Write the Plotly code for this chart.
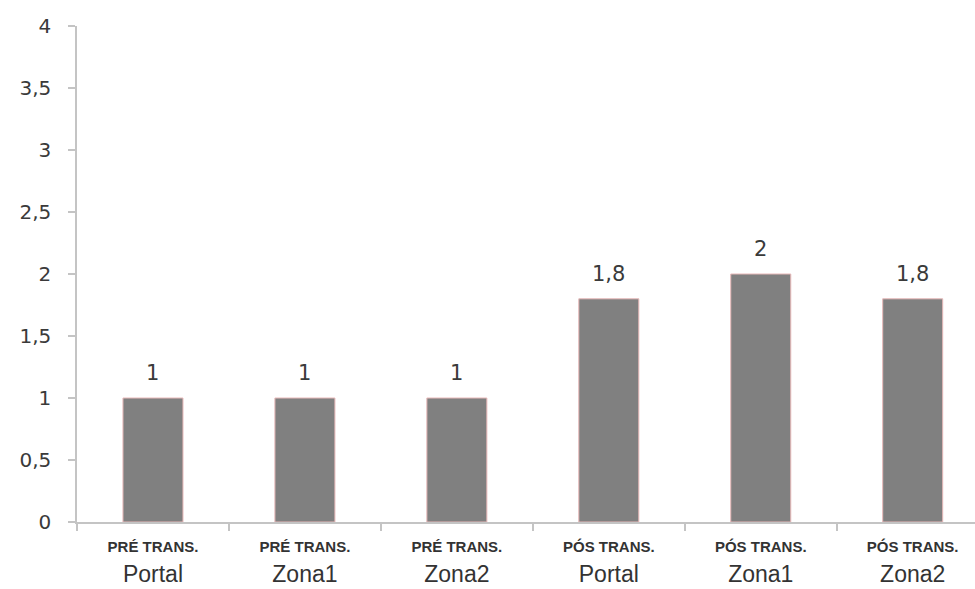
import plotly.graph_objects as go

groups = ["PRÉ TRANS.", "PRÉ TRANS.", "PRÉ TRANS.", "PÓS TRANS.", "PÓS TRANS.", "PÓS TRANS."]
sites = ["Portal", "Zona1", "Zona2", "Portal", "Zona1", "Zona2"]
values = [1, 1, 1, 1.8, 2, 1.8]
value_labels = ["1", "1", "1", "1,8", "2", "1,8"]
y_ticks = [0, 0.5, 1, 1.5, 2, 2.5, 3, 3.5, 4]
y_tick_labels = ["0", "0,5", "1", "1,5", "2", "2,5", "3", "3,5", "4"]

xs = list(range(len(values)))
ticktext = [f"<span style='font-size:15px'><b>{g}</b></span><br>{s}" for g, s in zip(groups, sites)]

fig = go.Figure()
fig.add_trace(go.Bar(
    x=xs, y=values, width=0.395,
    marker=dict(color="#808080", line=dict(color="#e8b8b8", width=1)),
    hoverinfo="skip",
))

for x, v, t in zip(xs, values, value_labels):
    fig.add_annotation(x=x, y=v, text=t, showarrow=False, yanchor="bottom", yshift=11,
                       font=dict(family="DejaVu Sans, sans-serif", size=21, color="#3a3a3a"))

fig.update_layout(
    width=975, height=589,
    margin=dict(l=77, r=0, t=26, b=67),
    plot_bgcolor="white", paper_bgcolor="white",
    showlegend=False,
    separators=", ",
)
fig.update_xaxes(
    range=[-0.5, 5.41], automargin=False,
    tickmode="array", tickvals=xs, ticktext=ticktext,
    ticks="", showgrid=False, zeroline=False,
    showline=True, linecolor="#c4c4c4", linewidth=1.5,
    ticklabelstandoff=1,
    tickfont=dict(family="Liberation Sans, Arial, sans-serif", size=23, color="#333333"),
    minor=dict(ticks="outside", tick0=-0.5, dtick=1, ticklen=7, tickcolor="#c4c4c4", tickwidth=1.5, showgrid=False),
)
fig.update_yaxes(
    range=[0, 4], automargin=False,
    tickmode="array", tickvals=y_ticks, ticktext=y_tick_labels,
    ticks="outside", ticklen=7, tickcolor="#c4c4c4", tickwidth=1.5,
    showgrid=False, zeroline=False,
    showline=True, linecolor="#c4c4c4", linewidth=1.5,
    ticklabelstandoff=13,
    tickfont=dict(family="DejaVu Sans, sans-serif", size=20, color="#3a3a3a"),
)

fig.write_html("out.html")
